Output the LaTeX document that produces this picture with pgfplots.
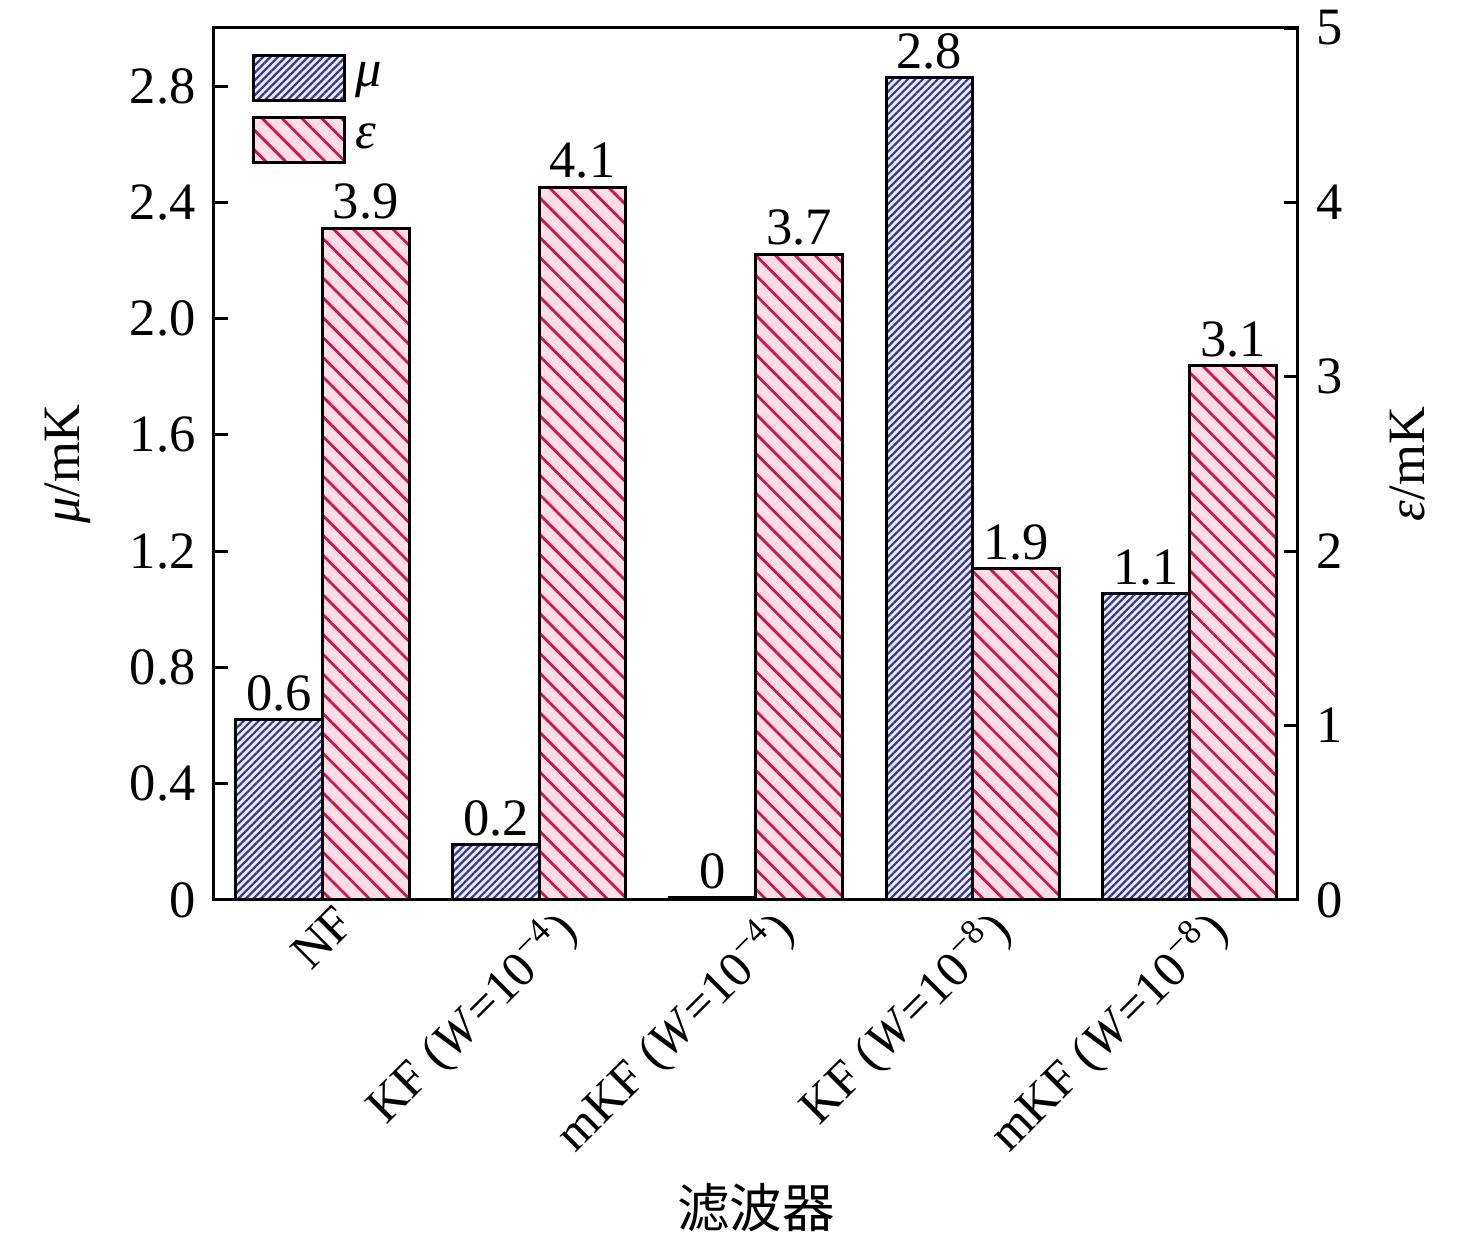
\documentclass[border=0pt]{standalone}
\usepackage{fontspec}
\setmainfont{Liberation Serif}
\newfontfamily\cjk{Noto Sans CJK SC}
\usepackage{pgfplots}
\pgfplotsset{compat=1.18}
\usetikzlibrary{patterns.meta}
\definecolor{muline}{HTML}{3A3A8C}
\definecolor{mufill}{HTML}{ECECF8}
\definecolor{epline}{HTML}{D0144C}
\definecolor{epfill}{HTML}{FFDDE8}
\pgfplotsset{
  base/.style={width=216.8pt,height=174.4pt,scale only axis,
    xmin=-0.5,xmax=4.5,ybar,bar width=0.4,
    tick align=inside,major tick length=2.8pt,
    /pgf/number format/assume math mode=true,
    axis line style={line width=0.6pt},
    every tick/.style={line width=0.6pt,black},
    tick label style={font=\fontsize{10.5}{12}\selectfont},
    label style={font=\fontsize{10.5}{12}\selectfont},
    nodes near coords,point meta=explicit symbolic,
    every node near coord/.append style={font=\fontsize{10.5}{12}\selectfont,black,anchor=south,inner sep=1.4pt},
  },
  mustyle/.style={draw=black,line width=0.6pt,
    preaction={fill=mufill},
    pattern={Lines[angle=45,distance=1.06pt,line width=0.45pt]},pattern color=muline,
    legend image code/.code={\path[##1] (0pt,-4.5pt) rectangle (18.2pt,4.5pt);}},
  epstyle/.style={draw=black,line width=0.6pt,
    preaction={fill=epfill},
    pattern={Lines[angle=-45,distance=2.8pt,line width=0.55pt]},pattern color=epline,
    legend image code/.code={\path[##1] (0pt,-4.5pt) rectangle (18.2pt,4.5pt);}},
}
\begin{document}
\fontsize{10.5}{12.6}\selectfont
\begin{tikzpicture}
\useasboundingbox (-42.8pt,-68.4pt) rectangle (252.4pt,180pt);
\begin{axis}[base,
  ymin=0,ymax=3,
  ytick={0,0.4,0.8,1.2,1.6,2.0,2.4,2.8},
  yticklabels={0,0.4,0.8,1.2,1.6,2.0,2.4,2.8},
  ytick pos=left,
  xtick={0,1,2,3,4},
  xticklabels={NF,KF (\textit{W}=10\textsuperscript{−4}),mKF (\textit{W}=10\textsuperscript{−4}),KF (\textit{W}=10\textsuperscript{−8}),mKF (\textit{W}=10\textsuperscript{−8})},
  xtick style={draw=none},
  xticklabel shift={-4.5pt},
  xticklabel style={font=\fontsize{10}{12}\selectfont,xshift=2.2pt,rotate=45,anchor=north east},
  ylabel={\textit{μ}/mK},
  ylabel style={at={(axis description cs:-0.135,0.5)},anchor=center},
  xlabel={{\cjk 滤波器}},
  xlabel style={at={(axis description cs:0.5,-0.353)},anchor=center},
  legend style={draw=none,fill=none,at={(axis description cs:0.02,0.985)},anchor=north west,
    row sep=2pt,font=\fontsize{10.5}{12}\selectfont},
  legend cell align=left,
]
\addplot[mustyle,bar shift=-0.2] coordinates {(0,0.62)[0.6] (1,0.19)[0.2] (2,0.01)[0] (3,2.83)[2.8] (4,1.053)[1.1]};
\addlegendentry{\textit{μ}}
\addlegendimage{epstyle}
\addlegendentry{\textit{ε}}
\end{axis}
\begin{axis}[base,
  ymin=0,ymax=5,
  ytick={0,1,2,3,4,5},
  yticklabels={0,1,2,3,4,5},
  axis y line*=right,
  axis x line=none,
  ylabel={\textit{ε}/mK},
  ylabel style={at={(axis description cs:1.1006,0.5)},anchor=center},
]
\addplot[epstyle,bar shift=0.2] coordinates {(0,3.853)[3.9] (1,4.088)[4.1] (2,3.704)[3.7] (3,1.898)[1.9] (4,3.062)[3.1]};
\end{axis}
\end{tikzpicture}
\end{document}
